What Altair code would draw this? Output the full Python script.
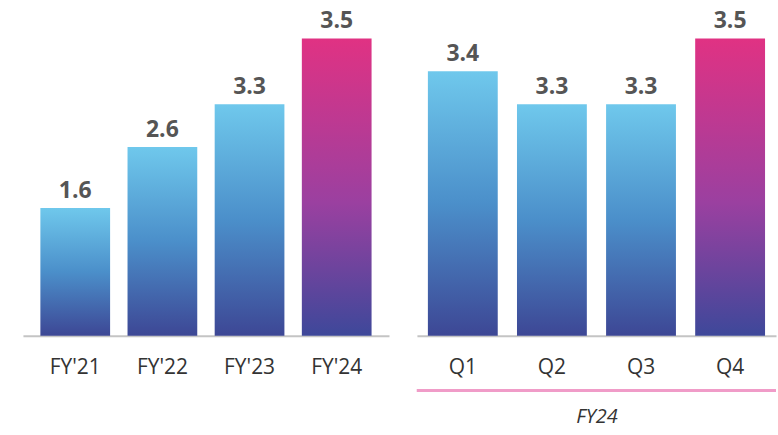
import altair as alt
import pandas as pd

years = ["FY'21", "FY'22", "FY'23", "FY'24"]
year_values = [1.6, 2.6, 3.3, 3.5]
quarters = ["Q1", "Q2", "Q3", "Q4"]
quarter_values = [3.4, 3.3, 3.3, 3.5]
highlight_year = "FY'24"
highlight_quarter = "Q4"
group_title = "FY24"

FONT = "Open Sans"
H = 331

blue = alt.Gradient(gradient="linear", x1=0, x2=0, y1=0, y2=1,
                    stops=[alt.GradientStop(color="#6fc8ec", offset=0),
                           alt.GradientStop(color="#4b8fca", offset=0.5),
                           alt.GradientStop(color="#3d4795", offset=1)])
pink = alt.Gradient(gradient="linear", x1=0, x2=0, y1=0, y2=1,
                    stops=[alt.GradientStop(color="#e03283", offset=0),
                           alt.GradientStop(color="#9b40a0", offset=0.55),
                           alt.GradientStop(color="#3e489a", offset=1)])

# piecewise scale as in the infographic (bars not strictly proportional)
yscale = alt.Scale(domain=[0, 1.6, 3.3, 3.5], range=[H, H - 128, H - 232, H - 298])


def panel(cats, vals, hi, width, pad_inner, pad_outer, title=None):
    df = pd.DataFrame({"cat": cats, "val": vals, "hi": [c == hi for c in cats]})
    axis_kw = dict(labelAngle=0, labelFont=FONT, labelFontSize=21, labelColor="#333333",
                   labelPadding=21, ticks=False, domainColor="#c4c4c4", domainWidth=2,
                   grid=False)
    scale = alt.Scale(paddingInner=pad_inner, paddingOuter=pad_outer)
    if title:
        axis = alt.Axis(title=title, titleFont=FONT, titleFontSize=20,
                        titleFontStyle="italic", titleFontWeight="normal",
                        titleColor="#333333", titlePadding=29, **axis_kw)
    else:
        axis = alt.Axis(title=None, **axis_kw)
    xenc = alt.X("cat:N", sort=cats, scale=scale, axis=axis)
    yenc = alt.Y("val:Q", scale=yscale, axis=None)
    base = alt.Chart(df).encode(x=xenc, y=yenc)
    b1 = base.transform_filter("!datum.hi").mark_bar(fill=blue)
    b2 = base.transform_filter("datum.hi").mark_bar(fill=pink)
    txt = base.mark_text(baseline="alphabetic", dy=-10, font=FONT, fontSize=23,
                         fontWeight="bold", color="#555555").encode(text=alt.Text("val:Q", format=".1f"))
    layers = [b1, b2, txt]
    if title:
        rule = alt.Chart(df).mark_rule(color="#f09cc8", strokeWidth=3).encode(
            x=alt.value(0), x2=alt.value(width), y=alt.value(H + 55))
        layers.append(rule)
    return alt.layer(*layers).properties(
        width=width, height=H, view=alt.ViewBackground(stroke="transparent", strokeWidth=0))


left = panel(years, year_values, highlight_year, 367, 0.2, 0.2)
right = panel(quarters, quarter_values, highlight_quarter, 360, 0.216, 0.123, title=group_title)

chart = alt.hconcat(left, right, spacing=26).properties(
    padding={"left": 23, "top": 5, "right": 0, "bottom": 0}
).configure_view(stroke="transparent", strokeWidth=0).configure(background="white")

chart.save("out.html", embed_options={"renderer": "svg", "actions": False})
